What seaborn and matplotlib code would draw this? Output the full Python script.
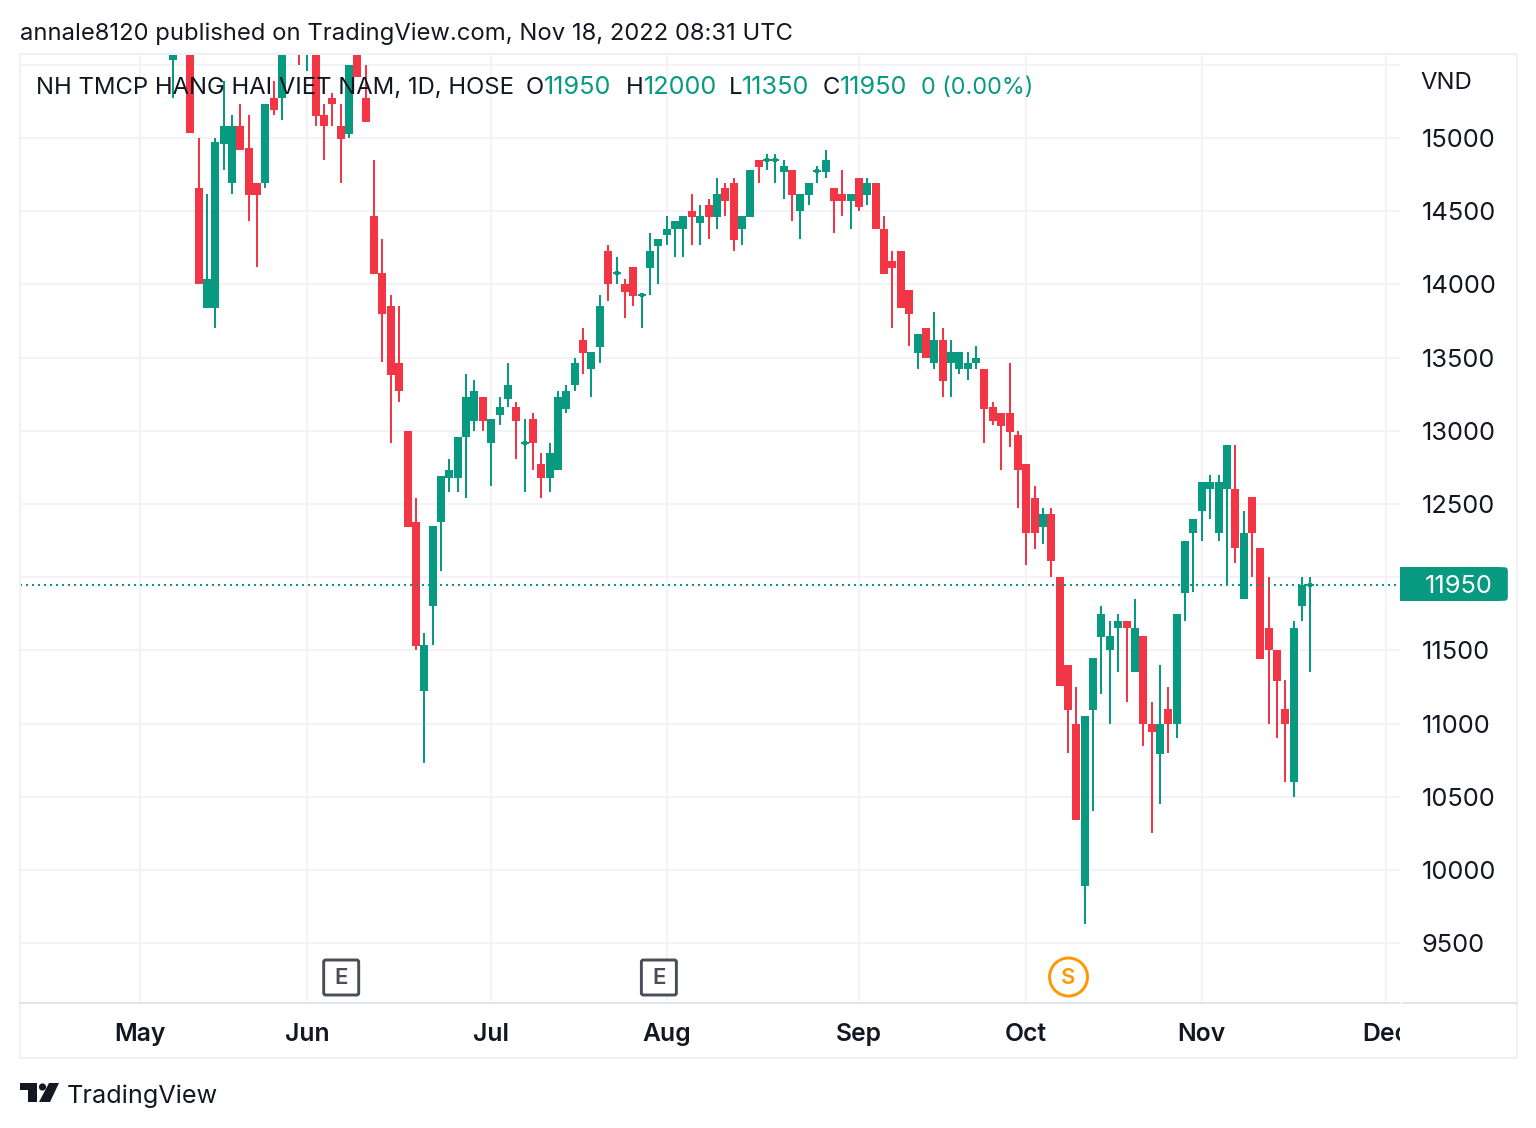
import numpy as np
import pandas as pd
import matplotlib
matplotlib.use('Agg')
import matplotlib.pyplot as plt
import seaborn as sns
from matplotlib.lines import Line2D
from matplotlib.patches import Circle, FancyBboxPatch, Polygon, Rectangle
from matplotlib.transforms import Affine2D, Bbox

nan = float('nan')

# daily candles by trading slot, nan = slot above the visible range
opens = [15530, nan, 15700, 14660, 13840, 13840, 14960, 14690, 15080, 14930, 14690, 14690, 15270, 15270, nan, 15750, 15650,
         15650, 15160, 15270, 15080, 15030, 15650, 15270, 14470, 14080, 13850, 13460, 13000, 12380, 11220, 11800, 12380,
         12680, 12680, 12960, 13070, 13230, 12920, 13110, 13220, 13160, 12920, 13080, 12770, 12680, 12730, 13150, 13310,
         13620, 13420, 13570, 14230, 14080, 14000, 14120, 13930, 14110, 14260, 14340, 14380, 14380, 14500, 14420, 14540,
         14460, 14660, 14690, 14380, 14460, 14850, 14850, 14850, 14770, 14780, 14500, 14610, 14775, 14770, 14660, 14620,
         14570, 14730, 14610, 14690, 14380, 14160, 14230, 13960, 13530, 13700, 13460, 13620, 13460, 13420, 13420, 13460,
         13420, 13160, 13120, 13120, 12970, 12770, 12540, 12340, 12430, 12000, 11400, 11000, 9890, 11090, 11590, 11500,
         11650, 11700, 11350, 11600, 11000, 10790, 11100, 11000, 11890, 12300, 12450, 12600, 12300, 12600, 12600, 11850,
         12550, 12200, 11650, 11500, 11100, 10600, 11800, 11950]
highs = [15700, nan, 15700, 15000, 14620, 15000, 15390, 15160, 15230, 15160, 14690, 15230, 15390, 15650, nan, 15800, 15800,
         15700, 15230, 15310, 15230, 15500, 15650, 15500, 14850, 14310, 13930, 13850, 13000, 12540, 11620, 12350, 12690,
         12810, 12960, 13390, 13350, 13230, 13080, 13230, 13460, 13200, 13080, 13120, 12850, 12920, 13270, 13310, 13500,
         13700, 13540, 13930, 14270, 14190, 14040, 14120, 13940, 14350, 14310, 14470, 14430, 14470, 14620, 14540, 14580,
         14730, 14690, 14730, 14470, 14780, 14850, 14890, 14890, 14850, 14780, 14620, 14690, 14810, 14920, 14660, 14780,
         14620, 14730, 14730, 14690, 14470, 14230, 14230, 13960, 13660, 13700, 13810, 13700, 13620, 13540, 13540, 13580,
         13420, 13200, 13120, 13460, 13000, 12770, 12620, 12470, 12470, 12000, 11400, 11250, 11050, 11450, 11800, 11700,
         11750, 11700, 11850, 11600, 11150, 11400, 11250, 11750, 12250, 12400, 12650, 12700, 12700, 12900, 12900, 12450,
         12550, 12200, 12000, 11500, 11300, 11700, 12000, 12000]
lows = [15270, nan, 15036, 14000, 13840, 13700, 14780, 14620, 14920, 14430, 14120, 14660, 15160, 15120, nan, 15500, 15460,
        15080, 14850, 15080, 14690, 15000, 15420, 15110, 14070, 13470, 12920, 13200, 12340, 11500, 10730, 11540, 12040,
        12580, 12580, 12540, 13000, 13000, 12620, 13040, 13160, 12810, 12580, 12730, 12540, 12580, 12730, 13120, 13270,
        13390, 13230, 13460, 13890, 14000, 13770, 13850, 13700, 13930, 14000, 14270, 14190, 14190, 14270, 14270, 14310,
        14380, 14470, 14230, 14270, 14460, 14690, 14780, 14690, 14580, 14430, 14310, 14540, 14690, 14730, 14350, 14470,
        14380, 14500, 14540, 14380, 14070, 13700, 13840, 13580, 13420, 13500, 13420, 13230, 13230, 13390, 13350, 13420,
        12920, 13040, 12730, 12890, 12470, 12080, 12190, 12230, 12000, 11260, 10800, 10340, 9630, 10400, 11200, 11000,
        11350, 11150, 11350, 10850, 10250, 10450, 10800, 10900, 11700, 11900, 12250, 12400, 12250, 11950, 12100, 11850,
        12000, 11440, 11000, 10900, 10600, 10500, 11700, 11350]
closes = [15600, nan, 15036, 14000, 14040, 14970, 15080, 15080, 14920, 14610, 14610, 15230, 15190, 15650, nan, 15700, 15750,
          15150, 15080, 15230, 14990, 15500, 15420, 15110, 14070, 13800, 13380, 13270, 12340, 11530, 11540, 12350, 12690,
          12730, 12960, 13230, 13270, 13070, 13080, 13160, 13310, 13070, 12920, 12920, 12680, 12850, 13230, 13270, 13460,
          13530, 13540, 13850, 14000, 14080, 13950, 13920, 13930, 14230, 14310, 14380, 14430, 14470, 14460, 14470, 14460,
          14620, 14570, 14300, 14470, 14780, 14800, 14850, 14850, 14810, 14610, 14620, 14690, 14775, 14850, 14570, 14570,
          14620, 14530, 14690, 14380, 14070, 14110, 13840, 13800, 13660, 13500, 13620, 13340, 13540, 13540, 13460, 13500,
          13150, 13070, 13030, 12990, 12730, 12300, 12300, 12430, 12110, 11260, 11090, 10340, 11050, 11450, 11750, 11600,
          11700, 11650, 11650, 11000, 10940, 11000, 11000, 11750, 12250, 12400, 12650, 12650, 12650, 12900, 12200, 12300,
          12300, 11440, 11500, 11290, 11000, 11650, 11950, 11950]

price_ticks = [9500, 10000, 10500, 11000, 11500, 12000, 12500, 13000, 13500, 14000, 14500, 15000, 15500]
# 12000 sits behind the last price badge, 15500 has no label in the pane
price_labels = ['9500', '10000', '10500', '11000', '11500', '', '12500', '13000', '13500', '14000', '14500', '15000', '']
month_slots = [-4, 16, 38, 59, 82, 102, 123, 145]
month_labels = ['May', 'Jun', 'Jul', 'Aug', 'Sep', 'Oct', 'Nov', 'Dec']
earnings_slots = [20, 58]
split_slots = [107]
last_price = 11950

GREEN = '#089981'
RED = '#f23645'
INK = '#131722'
GRID = '#f2f3f6'
W, H = 1536, 1128

sns.set_theme(style='white')
plt.rcParams['font.family'] = ['Inter', 'DejaVu Sans']

df = pd.DataFrame({'slot': np.arange(len(opens)), 'open': opens, 'high': highs, 'low': lows, 'close': closes}).dropna()
df['side'] = np.where(df['close'] >= df['open'], 'up', 'down')
doji = df[df['open'] == df['close']]

wicks = df.melt(id_vars=['slot', 'side'], value_vars=['low', 'high'], value_name='price')
bodies = df.melt(id_vars=['slot', 'side'], value_vars=['open', 'close'], value_name='price')

fig = plt.figure(figsize=(W / 100, H / 100), dpi=100, facecolor='white')
ax = fig.add_axes([20 / W, 1 - 1003 / H, 1380 / W, 949 / H])

# pixel coordinates for the chrome around the chart (y runs downwards)
px = Affine2D().scale(1, -1).translate(0, H)

palette = {'up': GREEN, 'down': RED}
for part, width in ((wicks, 1.44), (bodies, 5.76)):
    sns.lineplot(data=part, x='slot', y='price', hue='side', units='slot', estimator=None,
                 palette=palette, linewidth=width, solid_capstyle='butt', legend=False, ax=ax, zorder=3)

ax.hlines(doji['close'], doji['slot'] - 0.48, doji['slot'] + 0.48, color=GREEN, linewidth=1.44, zorder=3)
sns.scatterplot(data=doji, x='slot', y='close', marker='s', s=8, color=GREEN, linewidth=0, legend=False, ax=ax, zorder=3)

ax.axhline(last_price, color=GREEN, linewidth=1.44, linestyle=(0, (1, 2)), dash_capstyle='butt', zorder=4)

ax.set_xlim(-18.36, 146.71)
ax.set_ylim(9091.5, 15573.8)
ax.set_xlabel('')
ax.set_ylabel('')
ax.yaxis.tick_right()
ax.set_yticks(price_ticks, price_labels)
ax.set_xticks(month_slots, month_labels)
ax.grid(True, color=GRID, linewidth=1.44)
ax.set_axisbelow(True)
ax.tick_params(axis='y', length=0, pad=15.6, labelsize=18.3, labelcolor=INK)
ax.tick_params(axis='x', length=0, pad=14.4, labelsize=17.8, labelcolor=INK)
for label in ax.get_xticklabels():
    label.set_fontweight('semibold')
dec = ax.get_xticklabels()[-1]
dec.set_clip_box(Bbox([[0, 0], [1400, H]]))
dec.set_clip_on(True)
sns.despine(ax=ax, left=True, right=True, top=True, bottom=True)

# frame
fig.add_artist(Rectangle((20, 54), 1497, 1004, transform=px, fill=False, edgecolor='#f0f1f6', linewidth=1.44, zorder=5))
fig.add_artist(Line2D([20, 1400], [1003, 1003], transform=px, color='#e0e3eb', linewidth=1.44, zorder=5))
fig.add_artist(Line2D([1403, 1517], [1003, 1003], transform=px, color='#e0e3eb', linewidth=1.44, zorder=5))

# header and legend
fig.text(20, 34, 'annale8120 published on TradingView.com, Nov 18, 2022 08:31 UTC', transform=px,
         fontsize=17.15, color=INK, va='center', ha='left')
fig.text(1420, 83, 'VND', transform=px, fontsize=17.2, color=INK, va='center', ha='left')
legend_parts = [(36, 'NH TMCP HANG HAI VIET NAM, 1D, HOSE', INK, 17.15), (526, 'O', INK, 17.15), (544, '11950', GREEN, 18.2),
                (626, 'H', INK, 17.15), (644, '12000', GREEN, 18.2), (729, 'L', INK, 17.15), (742, '11350', GREEN, 18.2),
                (823, 'C', INK, 17.15), (840, '11950', GREEN, 18.2), (921, '0 (0.00%)', GREEN, 16.8)]
for x_pos, text, colour, size in legend_parts:
    fig.text(x_pos, 88, text, transform=px, fontsize=size, color=colour, va='center', ha='left', zorder=6)

# last price badge
y_last = H - ax.transData.transform((0, last_price))[1]
fig.add_artist(Rectangle((1400, y_last - 17.5), 100, 34, transform=px, facecolor=GREEN, edgecolor='none', zorder=5))
fig.add_artist(FancyBboxPatch((1488, y_last - 13.5), 16, 26, boxstyle='round,pad=0,rounding_size=0.01', transform=px,
                              facecolor=GREEN, edgecolor=GREEN, linewidth=5.5, zorder=5))
fig.text(1458.5, y_last + 1.5, str(last_price), transform=px, fontsize=18.3, color='white', va='center', ha='center', zorder=6)

# event markers
def slot_to_px(slot):
    return ax.transData.transform((slot, last_price))[0]

for slot in earnings_slots:
    cx = slot_to_px(slot)
    fig.add_artist(FancyBboxPatch((cx - 17, 960), 35, 35, boxstyle='round,pad=0,rounding_size=2', transform=px,
                                  facecolor='white', edgecolor='#4a4c58', linewidth=2.1, zorder=5, mutation_scale=1))
    fig.text(cx + 0.5, 978.5, 'E', transform=px, fontsize=16, fontweight='semibold', color='#4a4c58',
             va='center', ha='center', zorder=6)
for slot in split_slots:
    cx = slot_to_px(slot)
    fig.add_artist(Circle((cx + 0.5, 977), 19, transform=px, facecolor='white', edgecolor='#ff9800', linewidth=2.1, zorder=5))
    fig.text(cx + 0.5, 978.5, 'S', transform=px, fontsize=16, fontweight='semibold', color='#ff9800',
             va='center', ha='center', zorder=6)

# TradingView logo
fig.add_artist(Polygon([(20, 1083), (37, 1083), (37, 1102), (28, 1102), (28, 1090), (20, 1090)], closed=True,
                       transform=px, facecolor=INK, edgecolor='none'))
fig.add_artist(Circle((42.5, 1087), 3.6, transform=px, facecolor=INK, edgecolor='none'))
fig.add_artist(Polygon([(49, 1083), (59, 1083), (50, 1102), (39, 1102)], closed=True,
                       transform=px, facecolor=INK, edgecolor='none'))
fig.text(67, 1096, 'TradingView', transform=px, fontsize=18.2, color=INK, va='center', ha='left')

fig.savefig('out.png', dpi=100)
plt.close(fig)
